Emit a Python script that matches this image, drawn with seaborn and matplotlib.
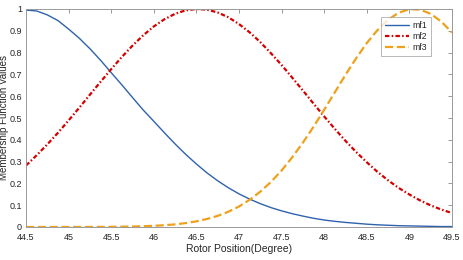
import pandas as pd
import matplotlib
matplotlib.use("Agg")
import matplotlib.pyplot as plt
import seaborn as sns

# rotor position (degree), sampled every 0.125
position = [44.5, 44.625, 44.75, 44.875, 45.0, 45.125, 45.25, 45.375, 45.5, 45.625,
            45.75, 45.875, 46.0, 46.125, 46.25, 46.375, 46.5, 46.625, 46.75, 46.875,
            47.0, 47.125, 47.25, 47.375, 47.5, 47.625, 47.75, 47.875, 48.0, 48.125,
            48.25, 48.375, 48.5, 48.625, 48.75, 48.875, 49.0, 49.125, 49.25, 49.375, 49.5]

# membership values
mf1 = [0.995, 0.991, 0.973, 0.947, 0.908, 0.866, 0.818, 0.765, 0.708, 0.652,
       0.594, 0.537, 0.485, 0.432, 0.381, 0.333, 0.289, 0.248, 0.212, 0.180,
       0.152, 0.128, 0.107, 0.089, 0.074, 0.061, 0.050, 0.040, 0.032, 0.026,
       0.021, 0.017, 0.013, 0.010, 0.008, 0.006, 0.005, 0.004, 0.003, 0.002, 0.002]
mf2 = [0.282, 0.329, 0.379, 0.432, 0.489, 0.547, 0.607, 0.666, 0.724, 0.780,
       0.832, 0.879, 0.920, 0.953, 0.978, 0.994, 1.000, 0.997, 0.984, 0.962,
       0.931, 0.893, 0.848, 0.797, 0.743, 0.685, 0.626, 0.566, 0.507, 0.450,
       0.395, 0.344, 0.297, 0.253, 0.214, 0.179, 0.149, 0.122, 0.099, 0.080, 0.064]
mf3 = [0.000, 0.000, 0.000, 0.0001, 0.0001, 0.0002, 0.0003, 0.0005, 0.0008, 0.0014,
       0.0022, 0.0035, 0.0054, 0.0082, 0.012, 0.018, 0.026, 0.037, 0.051, 0.070,
       0.094, 0.125, 0.162, 0.207, 0.259, 0.320, 0.387, 0.460, 0.538, 0.618,
       0.698, 0.774, 0.844, 0.903, 0.951, 0.983, 0.999, 0.997, 0.978, 0.942, 0.892]

x_ticks = [44.5, 45, 45.5, 46, 46.5, 47, 47.5, 48, 48.5, 49, 49.5]
x_labels = ["44.5", "45", "45.5", "46", "46.5", "47", "47.5", "48", "48.5", "49", "49.5"]
y_ticks = [0, 0.1, 0.2, 0.3, 0.4, 0.5, 0.6, 0.7, 0.8, 0.9, 1]
y_labels = ["0", "0.1", "0.2", "0.3", "0.4", "0.5", "0.6", "0.7", "0.8", "0.9", "1"]

sns.set_style("white")
plt.rcParams['font.family'] = ['Liberation Sans', 'DejaVu Sans']

fig = plt.figure(figsize=(4.64, 2.6), dpi=100)
ax = fig.add_axes([26 / 464, 33 / 260, 426 / 464, 218 / 260])

sns.lineplot(x=position, y=mf1, ax=ax, color='#2f62ad', linewidth=1.0, label='mf1')
sns.lineplot(x=position, y=mf2, ax=ax, color='#d40000', linewidth=1.6,
             linestyle=(0, (2, 1, 0.7, 1)), label='mf2')
sns.lineplot(x=position, y=mf3, ax=ax, color='#eea11c', linewidth=1.6,
             linestyle='--', label='mf3')

ax.set_xlim(44.5, 49.5)
ax.set_ylim(0, 1)
ax.set_xticks(x_ticks)
ax.set_xticklabels(x_labels)
ax.set_yticks(y_ticks)
ax.set_yticklabels(y_labels)
ax.tick_params(direction='in', length=3, width=0.6, colors='#888888',
               labelcolor='#262626', labelsize=6.5, top=True, right=True)
ax.tick_params(axis='x', pad=4)
ax.tick_params(axis='y', pad=3)
for sp in ax.spines.values():
    sp.set_color('#999999')
    sp.set_linewidth(0.7)

ax.set_xlabel('Rotor Position(Degree)', fontsize=7.5, color='#262626', labelpad=2)
ax.set_ylabel('Membership Function Values', fontsize=7, color='#262626')
ax.yaxis.set_label_coords(-0.039, 0.5)

leg = ax.legend(loc='upper right', bbox_to_anchor=(0.95, 0.965), borderaxespad=0,
                fontsize=6.3, frameon=True, fancybox=False, handlelength=2.8,
                handletextpad=0.3, labelspacing=0.25, borderpad=0.45)
leg.get_frame().set_edgecolor('#999999')
leg.get_frame().set_linewidth(0.6)

fig.savefig('out.png', dpi=100)
